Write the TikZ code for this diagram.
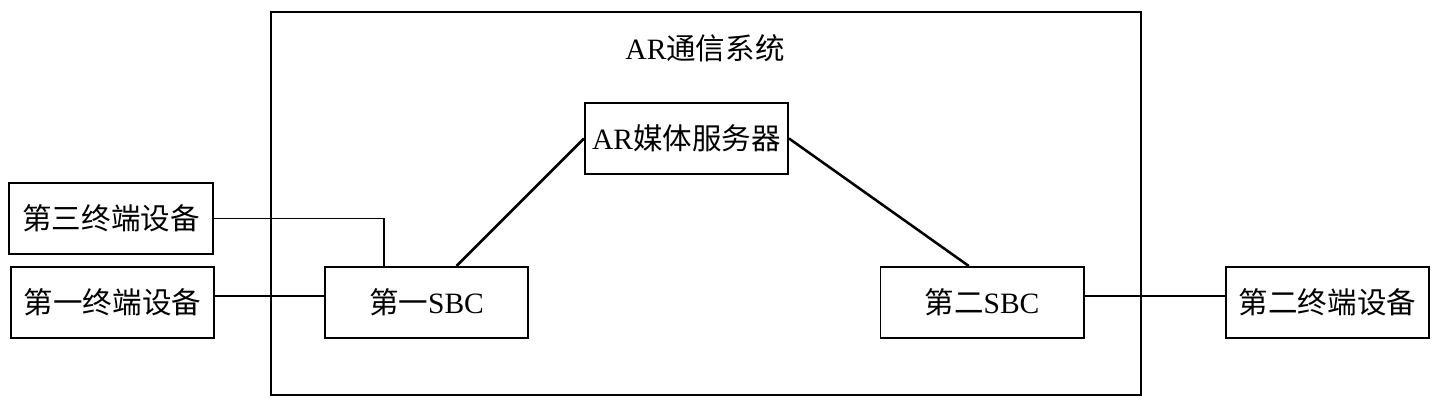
\documentclass[tikz,border=0pt]{standalone}
\usepackage{fontspec}
\setmainfont{Liberation Serif}
\newfontfamily\cjk{Noto Sans CJK SC}

\begin{document}
\begin{tikzpicture}[x=0.025cm, y=-0.025cm,
        unit/.style={draw, line width=1.4pt, minimum width=5.075cm, minimum height=1.775cm, inner sep=0pt},
        link/.style={line width=1.2pt},
        tie/.style={line width=1.8pt},
        font=\fontsize{21}{25}\selectfont]
                \useasboundingbox (0,0) rectangle (1440,407);
                \draw[line width=1.6pt] (271,12) rectangle (1141,395);
                \node (title) at (705,48) {AR{\cjk 通信系统}};
                \node[unit] (media) at (686.5,138.5) {AR{\cjk 媒体服务器}};
                \node[unit] (term3) at (111,218.5) {\cjk 第三终端设备};
                \node[unit] (term1) at (112.5,302.5) {\cjk 第一终端设备};
                \node[unit] (sbc1) at (426.5,302.5) {{\cjk 第一}SBC};
                \node[unit] (sbc2) at (982,302.5) {{\cjk 第二}SBC};
                \node[unit] (term2) at (1327.5,302.5) {\cjk 第二终端设备};
                \draw[link] (term3.east) -| ([xshift=-1.06cm]sbc1.north);
                \draw[link] ([yshift=0.16cm]term1.east) -- ([yshift=0.16cm]sbc1.west);
                \draw[tie] ([xshift=0.75cm]sbc1.north) -- (media.west);
                \draw[tie] (media.east) -- ([xshift=-0.33cm]sbc2.north);
                \draw[link] ([yshift=0.16cm]sbc2.east) -- ([yshift=0.16cm]term2.west);
            \end{tikzpicture}
\end{document}
